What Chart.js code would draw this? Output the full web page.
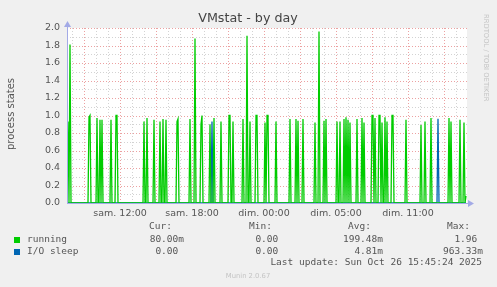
<!DOCTYPE html>
<html>
<head>
<meta charset="utf-8">
<title>VMstat - by day</title>
<script src="https://cdn.jsdelivr.net/npm/chart.js@4.4.1/dist/chart.umd.min.js"></script>
<style>
    body { margin: 0; background: #f0f0f0; }
    #wrap { width: 497px; height: 287px; }
</style>
</head>
<body>
<div id="wrap"><canvas id="vmstatChart" width="497" height="287"></canvas></div>
<script>
// 5-minute samples, slot 0 = sam. 07:35 (one slot per pixel)
const SLOTS = 400;

// x tick labels and the slot they sit on
const tickSlots = [53, 125, 197, 269, 341];
const tickLabels = ['sam. 12:00', 'sam. 18:00', 'dim. 00:00', 'dim. 05:00', 'dim. 11:00'];

// running: slot of each spike and its height
const runningSlots = [
    1, 3, 22, 23, 30, 33, 35, 44, 49, 50,
    77, 80, 87, 93, 96, 99, 110, 111, 123, 128,
    134, 135, 143, 147, 154, 162, 163, 166, 176, 180,
    183, 189, 190, 198, 200, 201, 209, 223, 229, 231,
    236, 248, 252, 257, 259, 270, 273, 277, 279, 281,
    283, 290, 295, 297, 305, 306, 308, 312, 313, 315,
    318, 320, 325, 326, 339, 354, 358, 364, 382, 384,
    393, 397, 399
];
const runningPeaks = [
    0.93, 1.81, 0.98, 1.00, 0.97, 0.95, 0.95, 0.95, 1.00, 1.00,
    0.93, 0.97, 0.95, 0.93, 0.96, 0.95, 0.93, 0.96, 0.96, 1.88,
    0.90, 1.00, 0.90, 0.97, 0.93, 1.00, 1.00, 0.93, 0.96, 1.91,
    0.93, 1.00, 1.00, 0.92, 1.00, 1.00, 0.93, 0.96, 0.96, 0.94,
    0.96, 0.92, 1.96, 0.94, 0.96, 0.93, 0.93, 0.96, 0.98, 0.95,
    0.92, 0.96, 0.97, 0.92, 1.00, 1.00, 0.97, 1.00, 1.00, 0.92,
    0.98, 0.93, 1.00, 1.00, 0.95, 0.89, 0.93, 0.97, 0.97, 0.93,
    0.95, 0.92, 0.08
];

// I/O sleep spikes
const ioSlots = [145, 371];
const ioPeaks = [0.93, 0.963];

// legend table
const seriesNames = ['running', 'I/O sleep'];
const seriesColors = ['#00cc00', '#0066b3'];
const curValues = ['80.00m', '0.00 '];
const minValues = ['0.00 ', '0.00 '];
const avgValues = ['199.48m', '4.81m'];
const maxValues = ['1.96 ', '963.33m'];

function buildSeries(slots, peaks) {
    const values = new Array(SLOTS).fill(0);
    slots.forEach((s, i) => { values[s] = peaks[i]; });
    return values.map((v, i) => ({ x: i, y: v }));
}

const gridRed = 'rgba(230, 130, 130, 0.75)';
const gridGray = 'rgba(200, 200, 200, 0.8)';
const axisColor = '#a3aae6';
const textColor = '#555';

const muninPlugin = {
    id: 'munin',
    beforeDraw(chart) {
        const { ctx, chartArea: a } = chart;
        ctx.save();
        ctx.fillStyle = '#f0f0f0';
        ctx.fillRect(0, 0, chart.width, chart.height);
        ctx.fillStyle = '#ffffff';
        ctx.fillRect(a.left, a.top, a.right - a.left, a.bottom - a.top);
        ctx.restore();
    },
    beforeDatasetsDraw(chart) {
        const { ctx, chartArea: a, scales } = chart;
        const xs = scales.x, ys = scales.y;
        ctx.save();
        ctx.lineWidth = 1;
        ctx.setLineDash([1, 2]);
        // horizontal grid, minor every 0.1, major every 0.2
        for (let k = 1; k <= 20; k++) {
            const y = Math.round(ys.getPixelForValue(k / 10)) + 0.5;
            ctx.strokeStyle = (k % 2 === 0) ? gridRed : gridGray;
            ctx.beginPath();
            ctx.moveTo(a.left, y);
            ctx.lineTo(a.right, y);
            ctx.stroke();
        }
        // vertical grid, every hour, major every 3 hours
        for (let s = 5; s < SLOTS; s += 12) {
            const x = Math.round(xs.getPixelForValue(s)) + 0.5;
            ctx.strokeStyle = ((s - 53) % 36 === 0) ? gridRed : gridGray;
            ctx.beginPath();
            ctx.moveTo(x, a.top);
            ctx.lineTo(x, a.bottom);
            ctx.stroke();
        }
        ctx.restore();
    },
    afterDatasetsDraw(chart) {
        const { ctx, chartArea: a } = chart;
        ctx.save();
        ctx.strokeStyle = axisColor;
        ctx.fillStyle = axisColor;
        ctx.lineWidth = 1;
        // x axis with arrow
        ctx.beginPath();
        ctx.moveTo(a.left, a.bottom + 0.5);
        ctx.lineTo(a.right + 3, a.bottom + 0.5);
        ctx.stroke();
        ctx.beginPath();
        ctx.moveTo(a.right + 7, a.bottom + 0.5);
        ctx.lineTo(a.right + 1, a.bottom - 3);
        ctx.lineTo(a.right + 1, a.bottom + 4);
        ctx.closePath();
        ctx.fill();
        // y axis with arrow
        ctx.beginPath();
        ctx.moveTo(a.left + 0.5, a.bottom);
        ctx.lineTo(a.left + 0.5, a.top - 3);
        ctx.stroke();
        ctx.beginPath();
        ctx.moveTo(a.left + 0.5, a.top - 7);
        ctx.lineTo(a.left - 3, a.top - 1);
        ctx.lineTo(a.left + 4, a.top - 1);
        ctx.closePath();
        ctx.fill();
        ctx.restore();
    },
    afterDraw(chart) {
        const ctx = chart.ctx;
        ctx.save();
        ctx.textBaseline = 'middle';

        // title
        ctx.fillStyle = '#444';
        ctx.font = '12.7px "DejaVu Sans"';
        ctx.textAlign = 'center';
        ctx.fillText('VMstat - by day', 248, 19);

        // y axis label
        ctx.save();
        ctx.translate(11, 114);
        ctx.rotate(-Math.PI / 2);
        ctx.fillStyle = textColor;
        ctx.font = '10px "DejaVu Sans"';
        ctx.fillText('process states', 0, 0);
        ctx.restore();

        // rrdtool credit
        ctx.save();
        ctx.translate(486, 14);
        ctx.rotate(Math.PI / 2);
        ctx.fillStyle = '#c4c4c4';
        ctx.font = '6.8px "DejaVu Sans"';
        ctx.textAlign = 'left';
        ctx.fillText('RRDTOOL / TOBI OETIKER', 0, 0);
        ctx.restore();

        // legend table
        ctx.font = '9.5px "DejaVu Sans Mono"';
        ctx.fillStyle = textColor;
        ctx.textAlign = 'left';
        ctx.fillText('Cur:', 149, 227);
        ctx.fillText('Min:', 249, 227);
        ctx.fillText('Avg:', 348, 227);
        ctx.fillText('Max:', 447, 227);

        const rows = [240, 252];
        rows.forEach((y, i) => {
            ctx.fillStyle = seriesColors[i];
            ctx.fillRect(14, y - 3, 6, 6);
            ctx.fillStyle = textColor;
            ctx.textAlign = 'left';
            ctx.fillText(seriesNames[i], 27, y);
            ctx.textAlign = 'right';
            ctx.fillText(curValues[i], 184, y);
            ctx.fillText(minValues[i], 284, y);
            ctx.fillText(avgValues[i], 383, y);
            ctx.fillText(maxValues[i], 483, y);
        });
        ctx.fillText('Last update: Sun Oct 26 15:45:24 2025', 482, 263);

        // footer
        ctx.textAlign = 'center';
        ctx.fillStyle = '#c4c4c4';
        ctx.font = '6.8px "DejaVu Sans"';
        ctx.fillText('Munin 2.0.67', 248, 276);
        ctx.restore();
    }
};

Chart.defaults.font.family = '"DejaVu Sans"';

new Chart(document.getElementById('vmstatChart'), {
    type: 'line',
    data: {
        datasets: [{
            label: 'running',
            data: buildSeries(runningSlots, runningPeaks),
            borderColor: seriesColors[0],
            borderWidth: 1.3,
            pointRadius: 0,
            tension: 0,
            fill: false
        }, {
            label: 'I/O sleep',
            data: buildSeries(ioSlots, ioPeaks),
            borderColor: seriesColors[1],
            borderWidth: 1.3,
            pointRadius: 0,
            tension: 0,
            fill: false
        }]
    },
    options: {
        responsive: false,
        animation: false,
        devicePixelRatio: 1,
        layout: {
            padding: { left: 0, right: 30, top: 28, bottom: 0 }
        },
        plugins: {
            legend: { display: false },
            tooltip: { enabled: false }
        },
        scales: {
            x: {
                type: 'linear',
                min: 0,
                max: SLOTS,
                grid: { display: false, drawTicks: false },
                border: { display: false },
                afterFit: function(scale) { scale.height = 84; },
                afterBuildTicks: function(scale) {
                    scale.ticks = tickSlots.map(v => ({ value: v }));
                },
                ticks: {
                    autoSkip: false,
                    maxRotation: 0,
                    padding: 5,
                    color: textColor,
                    font: { size: 9.5 },
                    callback: function(value) {
                        const i = tickSlots.indexOf(value);
                        return i >= 0 ? tickLabels[i] : '';
                    }
                }
            },
            y: {
                min: 0,
                max: 2,
                grid: { display: false, drawTicks: false },
                border: { display: false },
                afterFit: function(scale) { scale.width = 67; },
                ticks: {
                    stepSize: 0.2,
                    padding: 7,
                    color: textColor,
                    font: { size: 9.5 },
                    callback: function(value) {
                        return value.toFixed(1);
                    }
                }
            }
        }
    },
    plugins: [muninPlugin]
});
</script>
</body>
</html>
